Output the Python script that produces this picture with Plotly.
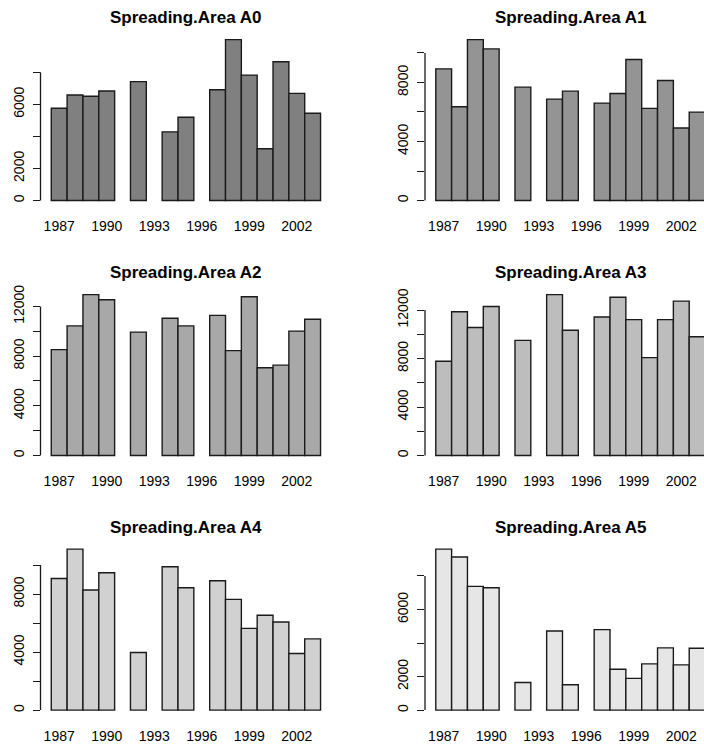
import plotly.graph_objects as go

# ---------------- data ----------------
years = list(range(1987, 2004))
label_years = [1987, 1990, 1993, 1996, 1999, 2002]

titles = ["Spreading.Area A0", "Spreading.Area A1", "Spreading.Area A2",
          "Spreading.Area A3", "Spreading.Area A4", "Spreading.Area A5"]

A0 = [5750, 6580, 6500, 6830, None, 7410, None, 4280, 5190, None, 6910, 10030, 7820, 3230, 8650, 6680, 5440]
A1 = [8920, 6350, 10900, 10270, None, 7680, None, 6870, 7410, None, 6600, 7250, 9550, 6240, 8130, 4910, 5990]
A2 = [8520, 10430, 12950, 12530, None, 9930, None, 11040, 10430, None, 11280, 8440, 12770, 7060, 7270, 10010, 10960]
A3 = [7780, 11860, 10560, 12300, None, 9500, None, 13280, 10340, None, 11430, 13060, 11210, 8080, 11210, 12740, 9800]
A4 = [9080, 11100, 8280, 9470, None, 3970, None, 9890, 8440, None, 8920, 7640, 5640, 6540, 6080, 3900, 4910]
A5 = [9600, 9130, 7380, 7300, None, 1650, None, 4720, 1510, None, 4800, 2440, 1890, 2760, 3710, 2700, 3690]
series = [A0, A1, A2, A3, A4, A5]

ticks_A0 = [0, 2000, 4000, 6000, 8000]
labels_A0 = ["0", "2000", "", "6000", ""]
ticks_A1 = [0, 2000, 4000, 6000, 8000, 10000]
labels_A1 = ["0", "", "4000", "", "8000", ""]
ticks_A2 = [0, 2000, 4000, 6000, 8000, 10000, 12000]
labels_A2 = ["0", "", "4000", "", "8000", "", "12000"]
ticks_A3 = [0, 2000, 4000, 6000, 8000, 10000, 12000]
labels_A3 = ["0", "", "4000", "", "8000", "", "12000"]
ticks_A4 = [0, 2000, 4000, 6000, 8000, 10000]
labels_A4 = ["0", "", "4000", "", "8000", ""]
ticks_A5 = [0, 2000, 4000, 6000, 8000]
labels_A5 = ["0", "2000", "", "6000", ""]
tick_sets = [(ticks_A0, labels_A0), (ticks_A1, labels_A1), (ticks_A2, labels_A2),
             (ticks_A3, labels_A3), (ticks_A4, labels_A4), (ticks_A5, labels_A5)]

fills = ["#808080", "#949494", "#A8A8A8", "#BDBDBD", "#D1D1D1", "#E6E6E6"]

# ---------------- layout geometry ----------------
W, H = 704, 749
FONT = "Liberation Sans, Arial, sans-serif"
ppu = 15.84                     # pixels per year
col_x0 = [40.5, 425.0]          # left edge of plot region (px)
row_bottom = [204.8, 460.8, 716.4]
plot_h = 174.5

lo = years[0] - 0.5
hi = years[-1] + 0.5
ext = 0.04 * (hi - lo)
full_w = (hi - lo + 2 * ext) * ppu

fig = go.Figure()
layout = dict(
    width=W, height=H, autosize=False,
    margin=dict(l=0, r=0, t=0, b=0),
    paper_bgcolor="white", plot_bgcolor="white",
    showlegend=False,
    font=dict(family=FONT, size=14, color="#000000"),
)
annotations = []
shapes = []

for k, vals in enumerate(series):
    r, c = divmod(k, 2)
    n = k + 1
    xa = "x" if n == 1 else f"x{n}"
    ya = "y" if n == 1 else f"y{n}"
    x0 = col_x0[c]
    x1 = min(x0 + full_w, W)
    xr0 = lo - ext
    xr1 = xr0 + (x1 - x0) / ppu
    yb = row_bottom[r]
    yt = yb - plot_h
    M = max(v for v in vals if v is not None)
    tv, tt = tick_sets[k]

    fig.add_trace(go.Bar(
        x=years, y=vals, width=1.0,
        marker=dict(color=fills[k], line=dict(color="#1a1a1a", width=1.4)),
        xaxis=xa, yaxis=ya, hoverinfo="x+y",
    ))

    layout["xaxis" if n == 1 else f"xaxis{n}"] = dict(
        domain=[x0 / W, x1 / W], range=[xr0, xr1], anchor=ya,
        tickvals=label_years, ticktext=[str(v) for v in label_years],
        showline=False, showgrid=False, zeroline=False, ticks="",
        ticklabelstandoff=9, tickfont=dict(family=FONT, size=14, color="#000000"),
        fixedrange=True,
    )
    layout["yaxis" if n == 1 else f"yaxis{n}"] = dict(
        domain=[1 - yb / H, 1 - yt / H], range=[-0.04 * M, 1.04 * M], anchor=xa,
        tickvals=tv, ticktext=tt, tickangle=-90,
        ticks="outside", ticklen=7, tickwidth=1.3, tickcolor="#1a1a1a",
        showline=False, showgrid=False, zeroline=False,
        ticklabelstandoff=3, tickfont=dict(family=FONT, size=14, color="#000000"),
        fixedrange=True,
    )
    shapes.append(dict(
        type="line", xref=f"{xa} domain", yref=ya,
        x0=0, x1=0, y0=tv[0], y1=tv[-1],
        line=dict(color="#1a1a1a", width=1.3),
    ))
    annotations.append(dict(
        text=titles[k], xref="paper", yref="paper",
        x=(x0 + full_w / 2) / W, y=1 - (yt - 15.5) / H,
        xanchor="center", yanchor="middle", showarrow=False,
        font=dict(family=FONT, size=17, color="#000000", weight="bold"),
    ))

layout["annotations"] = annotations
layout["shapes"] = shapes
fig.update_layout(**layout)

fig.write_html("out.html", config={"displayModeBar": False},
               post_script="document.body.style.margin='0';")
